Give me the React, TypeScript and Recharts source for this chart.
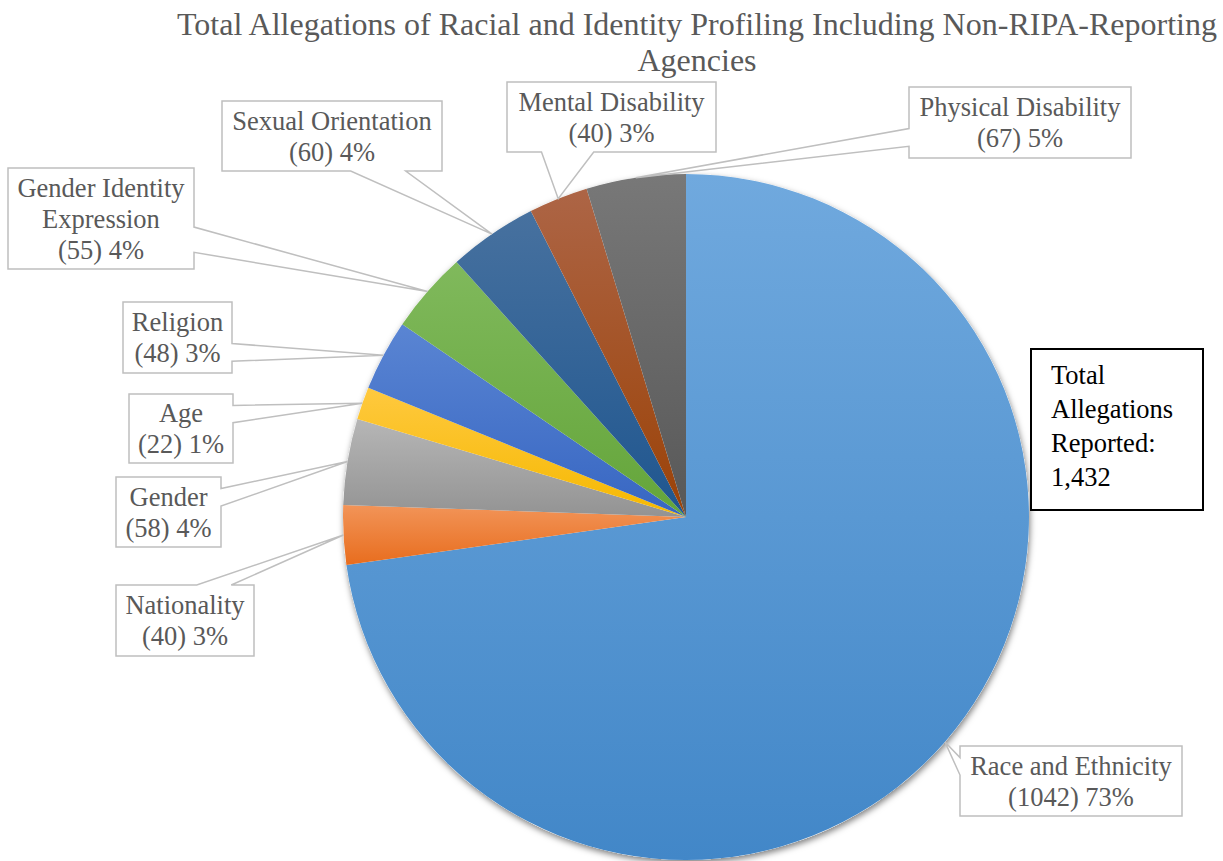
import { Cell, Pie, PieChart } from "recharts";

const CATEGORIES = [
  "Race and Ethnicity",
  "Nationality",
  "Gender",
  "Age",
  "Religion",
  "Gender Identity Expression",
  "Sexual Orientation",
  "Mental Disability",
  "Physical Disability",
];
const COUNTS = [1042, 40, 58, 22, 48, 55, 60, 40, 67];
const PERCENT_LABELS = ["73%", "3%", "4%", "1%", "3%", "4%", "4%", "3%", "5%"];

const TITLE_LINES = [
  "Total Allegations of Racial and Identity Profiling Including Non-RIPA-Reporting",
  "Agencies",
];

// slice gradients, top -> bottom
const GRADIENTS = [
  ["#70a9de", "#4287c8"],
  ["#f29458", "#e86d1e"],
  ["#b6b6b6", "#939393"],
  ["#ffc93f", "#f5b800"],
  ["#5a85d3", "#3766c2"],
  ["#80b95c", "#64a53a"],
  ["#47719f", "#1f568f"],
  ["#ad6546", "#9b4207"],
  ["#787878", "#585858"],
];

// callout boxes, offsets from pie centre
const LABEL_BOXES = [
  { dx: 274, dy: 229, w: 222, h: 70 },
  { dx: -570, dy: 68, w: 138, h: 71 },
  { dx: -570, dy: -40, w: 105, h: 70 },
  { dx: -557, dy: -123, w: 104, h: 69 },
  { dx: -563, dy: -215, w: 109, h: 71 },
  { dx: -678, dy: -349, w: 186, h: 101 },
  { dx: -464, dy: -416, w: 220, h: 70 },
  { dx: -179, dy: -435, w: 209, h: 70 },
  { dx: 223, dy: -430, w: 222, h: 71 },
];
const LABEL_WRAP: Record<string, string[]> = {
  "Gender Identity Expression": ["Gender Identity", "Expression"],
};

const data = CATEGORIES.map((name, i) => ({ name, value: COUNTS[i] }));
const total = COUNTS.reduce((a, b) => a + b, 0);
const shadowData = [{ name: "all", value: total }];

const CX = 686;
const CY = 517;
const R = 343;
const RADIAN = Math.PI / 180;
const FONT = "'Liberation Serif', 'Times New Roman', serif";

function calloutPath(x: number, y: number, w: number, h: number, ax: number, ay: number) {
  const mx = x + w / 2;
  const my = y + h / 2;
  const vx = ax - mx;
  const vy = ay - my;
  if (Math.abs(vx) / (w / 2) > Math.abs(vy) / (h / 2)) {
    const c = my + Math.sign(vy) * 0.42 * (h / 2);
    const y0 = c - 0.125 * h;
    const y1 = c + 0.125 * h;
    if (vx < 0) {
      return `M${x},${y} L${x + w},${y} L${x + w},${y + h} L${x},${y + h} L${x},${y1} L${ax},${ay} L${x},${y0} Z`;
    }
    return `M${x},${y} L${x + w},${y} L${x + w},${y0} L${ax},${ay} L${x + w},${y1} L${x + w},${y + h} L${x},${y + h} Z`;
  }
  const c = mx + Math.sign(vx) * 0.42 * (w / 2);
  const x0 = c - 0.125 * w;
  const x1 = c + 0.125 * w;
  if (vy < 0) {
    return `M${x},${y} L${x0},${y} L${ax},${ay} L${x1},${y} L${x + w},${y} L${x + w},${y + h} L${x},${y + h} Z`;
  }
  return `M${x},${y} L${x + w},${y} L${x + w},${y + h} L${x1},${y + h} L${ax},${ay} L${x0},${y + h} L${x},${y + h} Z`;
}

const renderCallout = (props: any) => {
  const { midAngle, index } = props;
  const cx = props.cx ?? CX;
  const cy = props.cy ?? CY;
  const r = props.outerRadius ?? R;
  const ax = cx + r * Math.cos(-midAngle * RADIAN);
  const ay = cy + r * Math.sin(-midAngle * RADIAN);
  const box = LABEL_BOXES[index];
  const x = cx + box.dx;
  const y = cy + box.dy;
  const name = CATEGORIES[index];
  const lines = [...(LABEL_WRAP[name] ?? [name]), `(${COUNTS[index]}) ${PERCENT_LABELS[index]}`];
  const mid = y + box.h / 2;
  return (
    <g key={`callout-${index}`}>
      <path
        d={calloutPath(x, y, box.w, box.h, ax, ay)}
        fill="#ffffff"
        stroke="#bfbfbf"
        strokeWidth={1.5}
      />
      {lines.map((line, i) => (
        <text
          key={i}
          x={x + box.w / 2}
          y={mid + (i - (lines.length - 1) / 2) * 31}
          textAnchor="middle"
          dominantBaseline="central"
          fontFamily={FONT}
          fontSize={26.5}
          fill="#595959"
        >
          {line}
        </text>
      ))}
    </g>
  );
};

export default function App() {
  return (
    <div
      style={{
        position: "absolute",
        left: 0,
        top: 0,
        width: 1223,
        height: 861,
        background: "#ffffff",
        overflow: "hidden",
      }}
    >
      <div
        style={{
          position: "absolute",
          left: 97,
          top: 6,
          width: 1200,
          textAlign: "center",
          fontFamily: FONT,
          fontSize: 32,
          lineHeight: "36px",
          color: "#595959",
          whiteSpace: "nowrap",
        }}
      >
        {TITLE_LINES.map((t) => (
          <div key={t}>{t}</div>
        ))}
      </div>
      <PieChart width={1223} height={861} margin={{ top: 0, right: 0, bottom: 0, left: 0 }}>
        <defs>
          {GRADIENTS.map(([top, bottom], i) => (
            <linearGradient key={i} id={`slice-${i}`} x1="0" y1="0" x2="0" y2="1">
              <stop offset="0%" stopColor={top} />
              <stop offset="100%" stopColor={bottom} />
            </linearGradient>
          ))}
          <filter id="pie-shadow" x="-10%" y="-10%" width="120%" height="120%">
            <feDropShadow dx="1" dy="3" stdDeviation="3" floodColor="#000000" floodOpacity="0.5" />
          </filter>
        </defs>
        <Pie
          data={shadowData}
          dataKey="value"
          cx={CX}
          cy={CY}
          outerRadius={R}
          startAngle={90}
          endAngle={-270}
          stroke="none"
          isAnimationActive={false}
        >
          <Cell fill="#ffffff" filter="url(#pie-shadow)" />
        </Pie>
        <Pie
          data={data}
          dataKey="value"
          nameKey="name"
          cx={CX}
          cy={CY}
          outerRadius={R}
          startAngle={90}
          endAngle={-270}
          stroke="none"
          label={renderCallout}
          labelLine={false}
          isAnimationActive={false}
        >
          {data.map((entry, i) => (
            <Cell key={entry.name} fill={`url(#slice-${i})`} />
          ))}
        </Pie>
      </PieChart>
      <div
        style={{
          position: "absolute",
          left: 1030,
          top: 348,
          width: 174,
          height: 163,
          boxSizing: "border-box",
          border: "2px solid #000000",
          background: "#ffffff",
          padding: "8px 0 0 19px",
          fontFamily: FONT,
          fontSize: 26.5,
          lineHeight: "34px",
          color: "#000000",
        }}
      >
        <div>Total</div>
        <div>Allegations</div>
        <div>Reported:</div>
        <div>{total.toLocaleString("en-US")}</div>
      </div>
    </div>
  );
}
